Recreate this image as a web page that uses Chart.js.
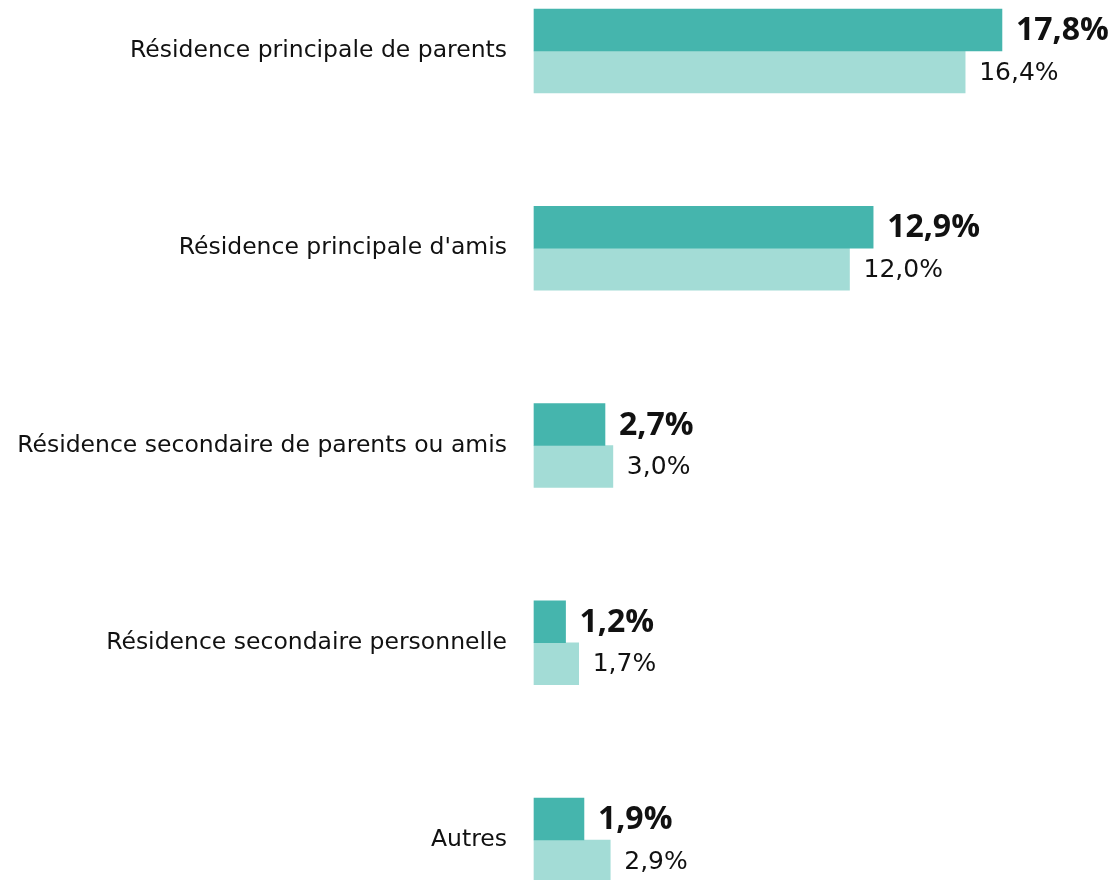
<!DOCTYPE html>
<html>
<head>
<meta charset="utf-8">
<script src="https://cdn.jsdelivr.net/npm/chart.js@4.4.1/dist/chart.umd.min.js"></script>
<style>
  html, body { margin: 0; padding: 0; background: #fff; }
  #wrap { width: 1115px; height: 880px; }
</style>
</head>
<body>
<div id="wrap"><canvas id="chart" width="1115" height="880"></canvas></div>
<script>
// ========== DATA ==========
const categories = [
  'Résidence principale de parents',
  "Résidence principale d'amis",
  'Résidence secondaire de parents ou amis',
  'Résidence secondaire personnelle',
  'Autres'
];
const seriesA = [17.8, 12.9, 2.7, 1.2, 1.9];   // foncé, étiquette en gras
const seriesB = [16.4, 12.0, 3.0, 1.7, 2.9];   // clair

const FONT = "'DejaVu Sans', sans-serif";
const FONT_BOLD = "'Open Sans', sans-serif";

// étiquettes de valeur à droite des barres
const valueLabels = {
  id: 'valueLabels',
  afterDatasetsDraw(chart) {
    const ctx = chart.ctx;
    ctx.save();
    ctx.textAlign = 'left';
    ctx.textBaseline = 'middle';
    ctx.fillStyle = '#111111';
    chart.data.datasets.forEach((ds, i) => {
      const meta = chart.getDatasetMeta(i);
      ctx.font = i === 0 ? 'bold 32px ' + FONT_BOLD : '25px ' + FONT;
      meta.data.forEach((bar, j) => {
        const txt = ds.data[j].toFixed(1).replace('.', ',') + '%';
        ctx.fillText(txt, bar.x + 14, bar.y + 1);
      });
    });
    ctx.restore();
  }
};

new Chart(document.getElementById('chart'), {
  type: 'bar',
  data: {
    labels: categories,
    datasets: [
      { data: seriesA, backgroundColor: '#45b5ad', barThickness: 42, clip: false },
      { data: seriesB, backgroundColor: '#a3dcd6', barThickness: 42, clip: false }
    ]
  },
  options: {
    indexAxis: 'y',
    responsive: false,
    animation: false,
    layout: { padding: { top: 51, bottom: 40, left: 0, right: 0 } },
    plugins: {
      legend: { display: false },
      tooltip: { enabled: false }
    },
    scales: {
      x: {
        display: false,
        min: 0,
        max: 22.1
      },
      y: {
        offset: false,
        grid: { display: false },
        border: { display: false },
        afterFit(scale) { scale.width = 534; },
        ticks: {
          padding: 19,
          color: '#111111',
          font: { family: FONT, size: 23.5 }
        }
      }
    }
  },
  plugins: [valueLabels]
});
</script>
</body>
</html>
